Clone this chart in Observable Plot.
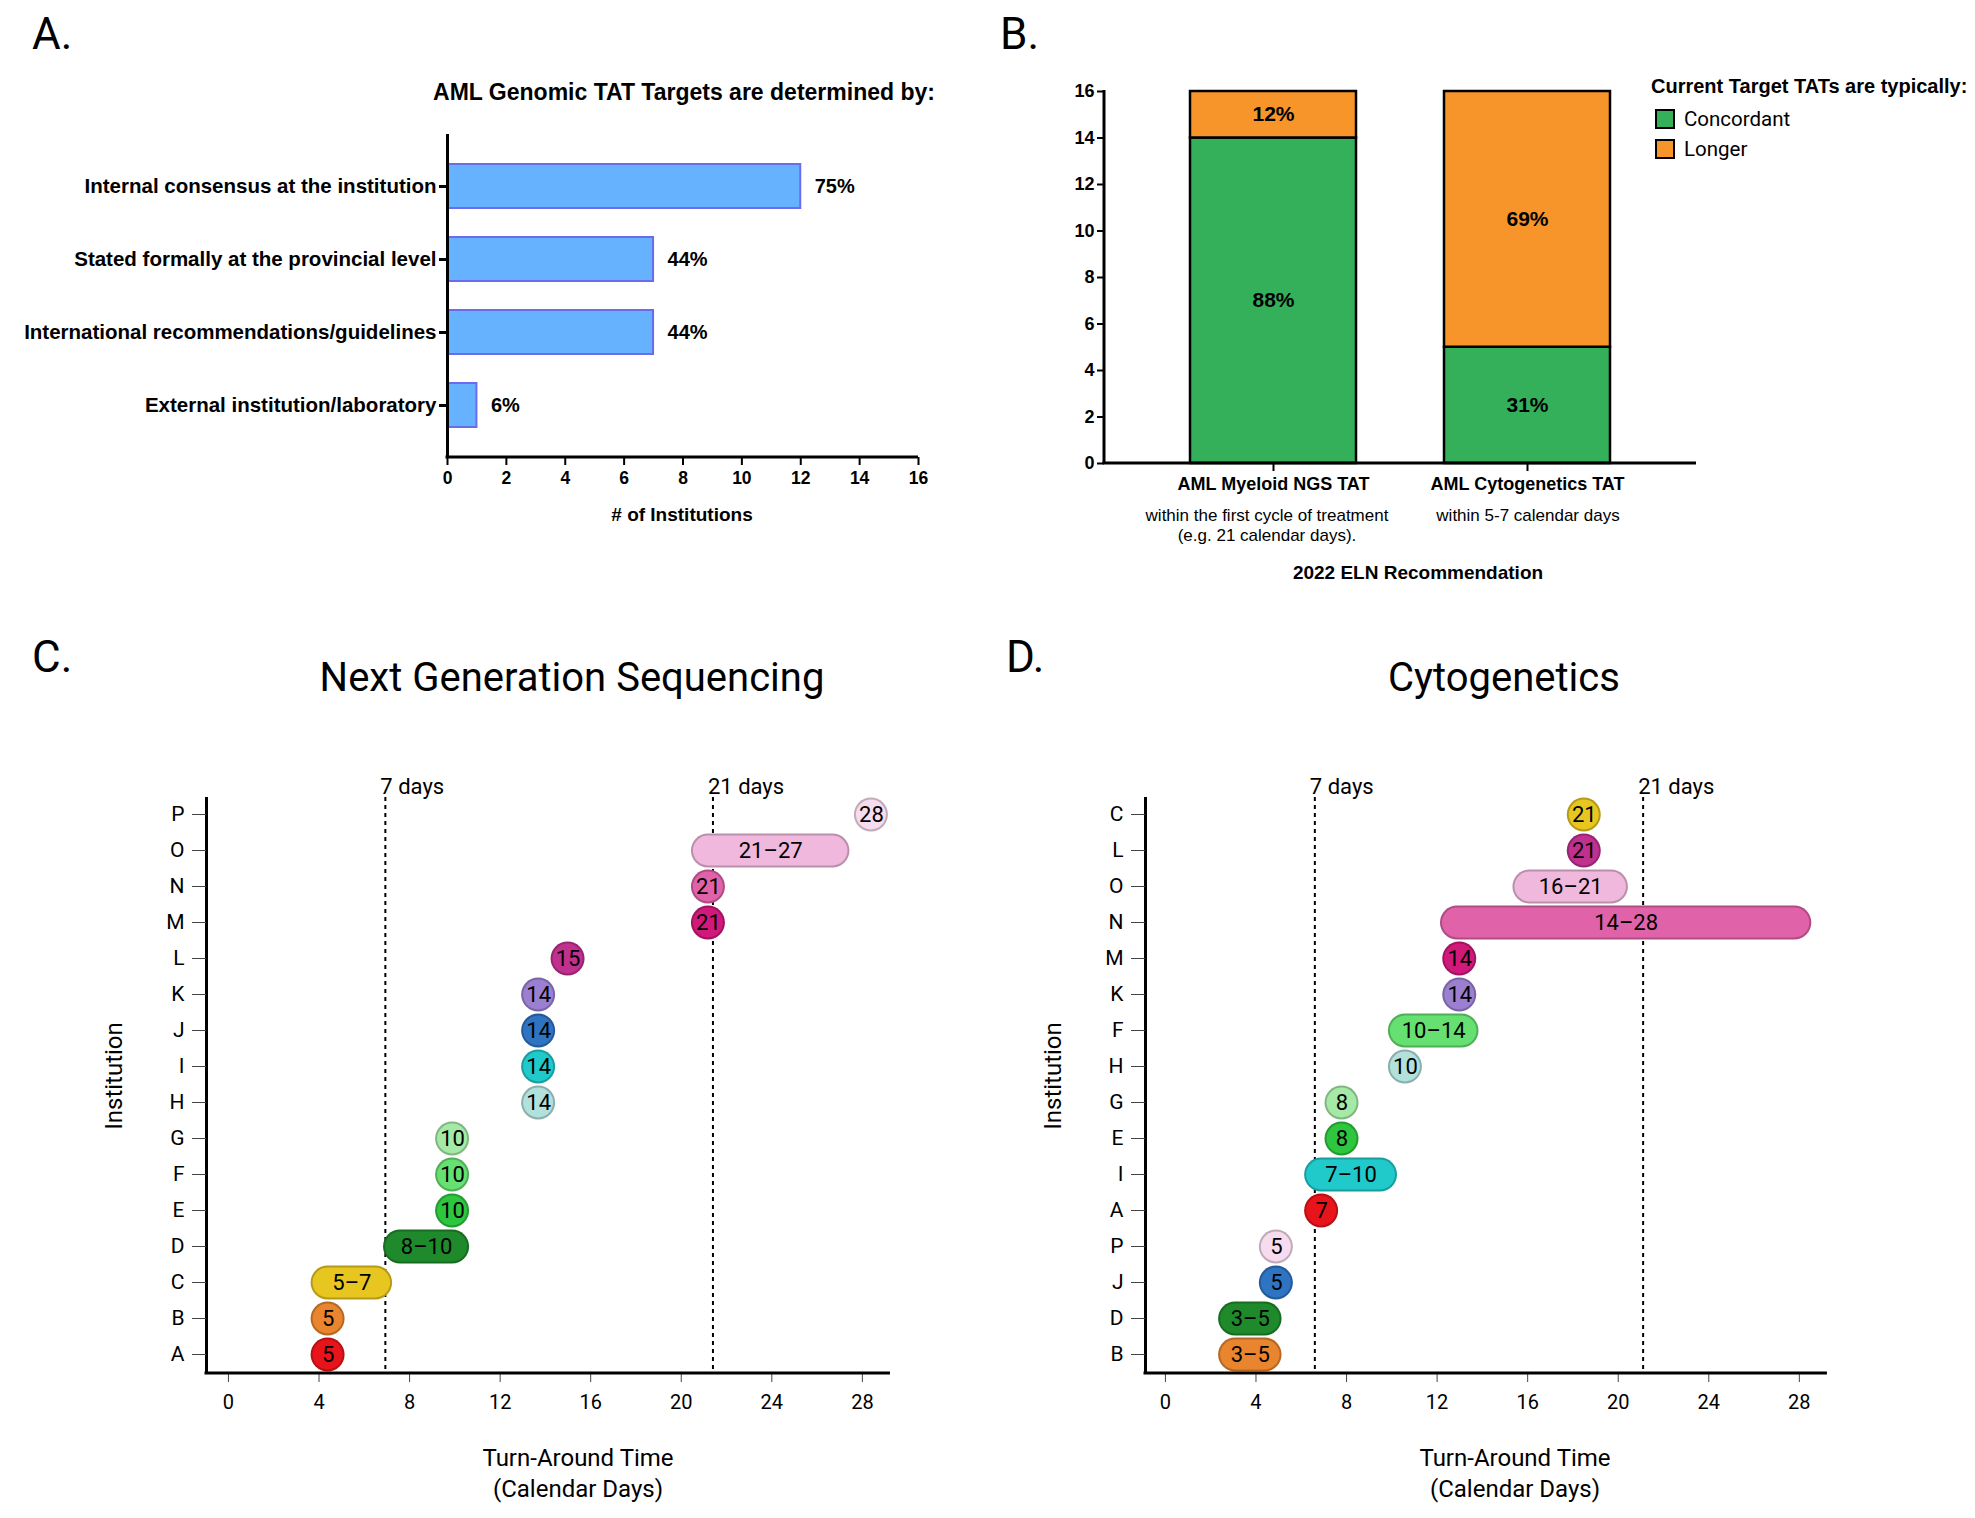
<!DOCTYPE html>
<html><head><meta charset="utf-8">
<script src="https://cdn.jsdelivr.net/npm/d3@7"></script>
<script src="https://cdn.jsdelivr.net/npm/@observablehq/plot@0.6"></script>
<style>
body{margin:0;background:#fff;width:1975px;height:1518px;position:relative;overflow:hidden}
.p{position:absolute}
.t{position:absolute;white-space:nowrap;color:#000}
.ab{font-family:"Liberation Sans",Arial,sans-serif;font-weight:bold}
.an{font-family:"Liberation Sans",Arial,sans-serif}
.rb{font-family:Roboto,sans-serif}
</style></head><body>
<script>
// ---- Panel A data
const aCats = ["Internal consensus at the institution","Stated formally at the provincial level","International recommendations/guidelines","External institution/laboratory"];
const aVals = [12,7,7,1];
const aPct = ["75%","44%","44%","6%"];
// ---- Panel B data
const bCats = ["AML Myeloid NGS TAT","AML Cytogenetics TAT"];
const bConc = [14,5];
const bLonger = [2,11];
const bConcPct = ["88%","31%"];
const bLongPct = ["12%","69%"];
// ---- Panel C data (NGS)
const cInst = ["P","O","N","M","L","K","J","I","H","G","F","E","D","C","B","A"];
const cStart = [28.4,21.2,21.2,21.2,15.0,13.7,13.7,13.7,13.7,9.9,9.9,9.9,7.6,4.4,4.4,4.4];
const cEnd   = [28.4,26.7,21.2,21.2,15.0,13.7,13.7,13.7,13.7,9.9,9.9,9.9,9.9,6.5,4.4,4.4];
const cLabel = ["28","21–27","21","21","15","14","14","14","14","10","10","10","8–10","5–7","5","5"];
const cRefs = [6.93,21.4];
// ---- Panel D data (Cytogenetics)
const dInst = ["C","L","O","N","M","K","F","H","G","E","I","A","P","J","D","B"];
const dStart = [18.5,18.5,16.1,12.9,13.0,13.0,10.6,10.6,7.8,7.8,6.9,6.9,4.9,4.9,3.1,3.1];
const dEnd   = [18.5,18.5,19.7,27.8,13.0,13.0,13.1,10.6,7.8,7.8,9.5,6.9,4.9,4.9,4.4,4.4];
const dLabel = ["21","21","16–21","14–28","14","14","10–14","10","8","8","7–10","7","5","5","3–5","3–5"];
const dRefs = [6.6,21.1];
const refLabels = ["7 days","21 days"];
const xTicks = [0,4,8,12,16,20,24,28];
const instColor = {A:"#e8141b",B:"#e8852e",C:"#e8c620",D:"#1f8a2b",E:"#2ec63e",F:"#66e070",G:"#a4eaa6",H:"#b2e0dc",I:"#20caca",J:"#2f74c2",K:"#9b80d2",L:"#c0308e",M:"#d0197a",N:"#e062a8",O:"#f0b8dc",P:"#f6dcee"};

function place(el,left,top){const d=document.createElement("div");d.className="p";d.style.left=left+"px";d.style.top=top+"px";d.appendChild(el);document.body.appendChild(d);return el;}
function txt(s,cls,left,top,size,anchor){const d=document.createElement("div");d.className="t "+cls;d.innerHTML=s;d.style.fontSize=size+"px";d.style.left=left+"px";d.style.top=top+"px";if(anchor==="c")d.style.transform="translate(-50%,-50%)";else d.style.transform="translate(0,-50%)";document.body.appendChild(d);}
function hline(svg,x1,x2,y,w){d3.select(svg).append("line").attr("x1",x1).attr("x2",x2).attr("y1",y).attr("y2",y).attr("stroke","#000").attr("stroke-width",w);}

// ---- Panel A
{
 const rows = aCats.map((c,i)=>({c,v:aVals[i],p:aPct[i]}));
 const W=960,H=537,ml=447,mr=42,mt=134,mb=80;
 const svg = Plot.plot({width:W,height:H,marginLeft:ml,marginRight:mr,marginTop:mt,marginBottom:mb,
  style:{fontFamily:"Liberation Sans, Arial",fontWeight:"bold",fontSize:"17px",color:"#000",overflow:"visible"},
  x:{domain:[0,16]}, y:{domain:aCats,padding:0.4},
  marks:[
   Plot.barX(rows,{x:"v",y:"c",fill:"#66b2ff",stroke:"#6b6bef",strokeWidth:2}),
   Plot.text(rows,{x:"v",y:"c",text:"p",dx:14,textAnchor:"start",fontSize:20,fontWeight:"bold",fill:"#000"}),
   Plot.ruleX([0],{strokeWidth:3}),
   Plot.axisY({tickSize:8,tickPadding:3,fontSize:20.5,strokeWidth:3,label:null}),
   Plot.axisX({ticks:d3.range(0,17,2),tickSize:8,tickPadding:6,fontSize:17.5,strokeWidth:2,label:null})
  ]});
 hline(svg,ml-1.5,W-mr,H-mb,3);
 place(svg,0,0);
 txt("AML Genomic TAT Targets are determined by:","ab",684,92,23,"c");
 txt("# of Institutions","ab",682,515,19,"c");
 txt("A.","rb",32,34,44);
}
// ---- Panel B
{
 const rows=[];
 bCats.forEach((c,i)=>{rows.push({c,k:"Concordant",v:bConc[i],p:bConcPct[i]});rows.push({c,k:"Longer",v:bLonger[i],p:bLongPct[i]});});
 const W=1015,H=600,ml=144,mr=279,mt=91,mb=137;
 const svg = Plot.plot({width:W,height:H,marginLeft:ml,marginRight:mr,marginTop:mt,marginBottom:mb,
  style:{fontFamily:"Liberation Sans, Arial",fontWeight:"bold",fontSize:"17px",color:"#000",overflow:"visible"},
  x:{domain:bCats,paddingInner:0.345,paddingOuter:0.335}, y:{domain:[0,16]},
  color:{domain:["Concordant","Longer"],range:["#34b05a","#f7952a"]},
  marks:[
   Plot.barY(rows,{x:"c",y:"v",fill:"k",stroke:"#000",strokeWidth:2.5}),
   Plot.text(rows,Plot.stackY({x:"c",y:"v",text:"p",fontSize:21,fontWeight:"bold",fill:"#000"})),
   Plot.axisY({ticks:d3.range(0,17,2),tickSize:7,tickPadding:3,fontSize:18,strokeWidth:2,label:null}),
   Plot.axisX({tickSize:8,tickPadding:6,fontSize:18,strokeWidth:2,label:null})
  ]});
 d3.select(svg).append("line").attr("x1",ml).attr("x2",ml).attr("y1",mt-1).attr("y2",H-mb).attr("stroke","#000").attr("stroke-width",3);
 hline(svg,ml-1.5,W-mr,H-mb,3);
 place(svg,960,0);
 txt("within the first cycle of treatment","an",1267,516,17,"c");
 txt("(e.g. 21 calendar days).","an",1267,536,17,"c");
 txt("within 5-7 calendar days","an",1528,516,17,"c");
 txt("2022 ELN Recommendation","ab",1418,573,19,"c");
 txt("B.","rb",1000,34,44);
 txt("Current Target TATs are typically:","ab",1651,86,20);
 const lg=[["Concordant","#34b05a",118],["Longer","#f7952a",148]];
 lg.forEach(([n,c,y])=>{const s=document.createElement("div");s.className="p";s.style.cssText=`left:1655px;top:${y-9}px;width:16px;height:16px;background:${c};border:2px solid #000`;document.body.appendChild(s);txt(n,"rb",1684,y+1,20.5);});
}
// ---- Panels C & D
function timeline(inst,start,end,label,refs,xmin,left,title,tx,letter,lx,axlx){
 const rows=inst.map((n,i)=>({n,s:start[i],e:end[i],l:label[i],c:instColor[n],o:d3.color(instColor[n]).darker(0.7).formatHex()}));
 const refRows=refs.map((v,i)=>({v,l:refLabels[i]}));
 const W= left===0?920:1030, H=806, ml=206, mr=W-ml-(29.24-xmin)*22.64, mt=97, mb=133;
 const svg=Plot.plot({width:W,height:H,marginLeft:ml,marginRight:mr,marginTop:mt,marginBottom:mb,
  style:{fontFamily:"Roboto, sans-serif",fontSize:"19px",color:"#000",overflow:"visible"},
  x:{domain:[xmin,29.24]}, y:{type:"point",domain:inst,range:[114,654],padding:0},
  marks:[
   Plot.ruleX(refRows,{x:"v",stroke:"#000",strokeWidth:2,strokeDasharray:"4,4"}),
   Plot.text(refRows,{x:"v",text:"l",frameAnchor:"top",lineAnchor:"bottom",textAnchor:"start",dx:-5,dy:-4,fontSize:22,fill:"#000"}),
   Plot.ruleY(rows,{y:"n",x1:"s",x2:"e",stroke:"o",strokeWidth:34,strokeLinecap:"round"}),
   Plot.ruleY(rows,{y:"n",x1:"s",x2:"e",stroke:"c",strokeWidth:30,strokeLinecap:"round"}),
   Plot.text(rows,{y:"n",x:d=>(d.s+d.e)/2,text:"l",fontSize:22,fill:"#000"}),
   Plot.ruleX([xmin],{strokeWidth:3}),
   Plot.axisY({tickSize:14,tickPadding:8,fontSize:21,stroke:"#444",label:null}),
   Plot.axisX({ticks:xTicks,tickSize:9,tickPadding:12,fontSize:20,stroke:"#444",label:null})
  ]});
 hline(svg,ml-1.5,W-mr,H-mb,3);
 place(svg,left,700);
 txt(title,"rb",tx,677,40,"c");
 txt(letter,"rb",lx,657,44);
 txt("Turn-Around Time","rb",axlx,1458,24,"c");
 txt("(Calendar Days)","rb",axlx,1489,24,"c");
 const d=document.createElement("div");d.className="t rb";d.textContent="Institution";d.style.cssText+=`font-size:24px;left:${left+114}px;top:1076px;transform:translate(-50%,-50%) rotate(-90deg)`;document.body.appendChild(d);
}
timeline(cInst,cStart,cEnd,cLabel,cRefs,-0.97,0,"Next Generation Sequencing",572,"C.",32,578);
timeline(dInst,dStart,dEnd,dLabel,dRefs,-0.88,939,"Cytogenetics",1504,"D.",1006,1515);
</script>
</body></html>
